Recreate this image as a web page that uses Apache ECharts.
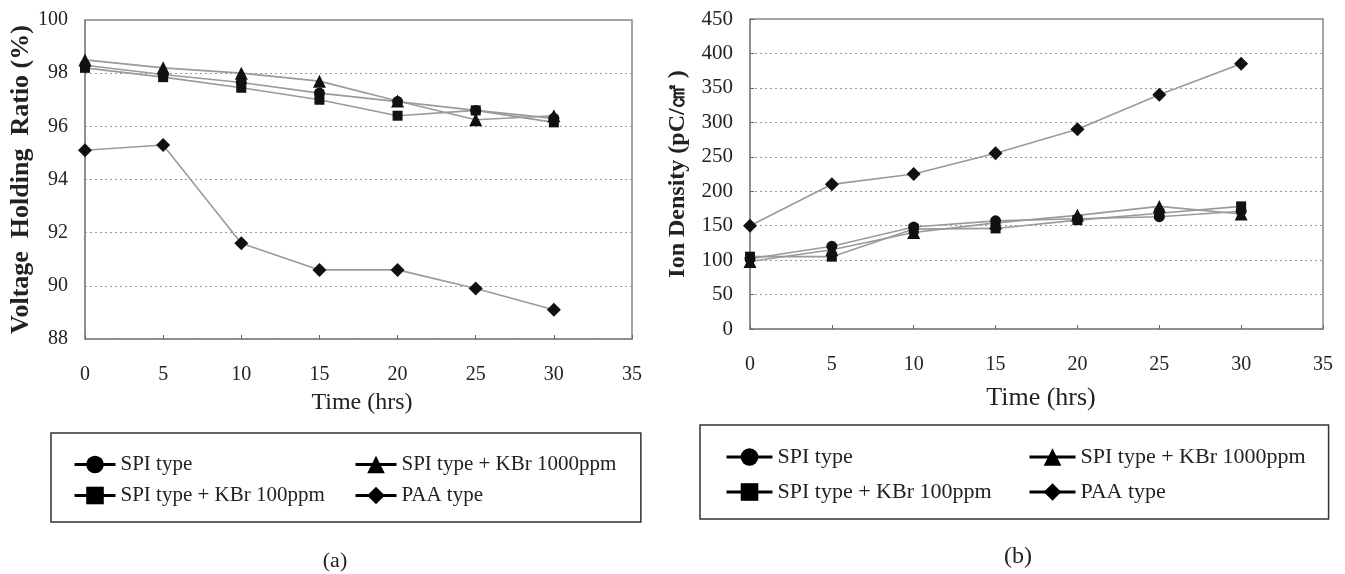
<!DOCTYPE html>
<html>
<head>
<meta charset="utf-8">
<script src="https://cdn.jsdelivr.net/npm/echarts@6/dist/echarts.min.js"></script>
<style>
html,body{margin:0;padding:0;background:#fff;}
#chart{width:1345px;height:574px;}
</style>
</head>
<body>
<div id="chart"></div>
<script>
// ---- data ----
const hours = [0, 5, 10, 15, 20, 25, 30];
const seriesNames = ['SPI type', 'SPI type + KBr 100ppm', 'SPI type + KBr 1000ppm', 'PAA type'];
// (a) Voltage Holding Ratio (%)
const vhrSPI     = [98.3, 97.95, 97.65, 97.25, 96.93, 96.6, 96.3];
const vhrKBr100  = [98.2, 97.85, 97.45, 97.0, 96.4, 96.6, 96.15];
const vhrKBr1000 = [98.5, 98.2, 98.0, 97.7, 96.95, 96.25, 96.4];
const vhrPAA     = [95.1, 95.3, 91.6, 90.6, 90.6, 89.9, 89.1];
// (b) Ion Density (pC/cm2)
const ionSPI     = [102, 120, 148, 157, 160, 163, 171];
const ionKBr100  = [105, 105, 145, 146, 158, 168, 178];
const ionKBr1000 = [98, 115, 140, 154, 165, 178, 167];
const ionPAA     = [150, 210, 225, 255, 290, 340, 385];

const symbols = ['circle', 'rect', 'triangle', 'diamond'];
const symbolSizes = [11, 10, 13, 14];

const FONT = '"Liberation Serif", "Times New Roman", serif';
const TXT = '#222';

function pairs(ys) { return hours.map((h, i) => [h, ys[i]]); }

function mkSeries(dataSets, idx) {
  return dataSets.map((d, i) => ({
    name: seriesNames[i],
    type: 'line',
    xAxisIndex: idx, yAxisIndex: idx,
    data: pairs(d),
    symbol: symbols[i],
    symbolSize: symbolSizes[i],
    showAllSymbol: true,
    lineStyle: { color: '#9a9a9a', width: 1.6 },
    itemStyle: { color: '#111' },
    z: 3,
    animation: false
  }));
}

function xAxisOpt(idx, nameGap, fontSize, namePad) {
  return {
    type: 'value', gridIndex: idx, min: 0, max: 35, interval: 5,
    name: 'Time (hrs)', nameLocation: 'middle', nameGap: nameGap,
    nameTextStyle: { fontFamily: FONT, fontSize: fontSize, color: TXT, padding: namePad },
    axisLine: { lineStyle: { color: '#888', width: 1.5 } },
    axisTick: { inside: true, length: 4, lineStyle: { color: '#666' } },
    axisLabel: { fontFamily: FONT, fontSize: 20, color: TXT, margin: 26 },
    splitLine: { show: false }
  };
}

function legendCol(names, o) {
  return Object.assign({
    data: names, orient: 'vertical', selectedMode: false,
    itemHeight: 22,
    lineStyle: { color: '#000', width: 3 },
    itemStyle: { color: '#000' },
    borderWidth: 0
  }, o);
}

const option = {
  animation: false,
  backgroundColor: '#fff',
  grid: [
    { left: 85, top: 20, width: 547, height: 319, show: true, borderColor: '#888', borderWidth: 1.5, containLabel: false },
    { left: 750, top: 19, width: 573, height: 310, show: true, borderColor: '#888', borderWidth: 1.5, containLabel: false }
  ],
  xAxis: [ xAxisOpt(0, 52, 24, [0, 0, 0, 7]), xAxisOpt(1, 56, 26, [0, 0, 0, 9]) ],
  yAxis: [
    {
      type: 'value', gridIndex: 0, min: 88, max: 100, interval: 2,
      name: 'Voltage  Holding  Ratio (%)', nameLocation: 'middle', nameGap: 50, nameRotate: 90,
      nameTextStyle: { fontFamily: FONT, fontSize: 26, fontWeight: 'bold', color: TXT },
      axisLine: { lineStyle: { color: '#888', width: 1.5 } },
      axisTick: { show: false },
      axisLabel: { fontFamily: FONT, fontSize: 20, color: TXT, margin: 17 },
      splitLine: { show: true, lineStyle: { type: [2, 3], color: '#9a9a9a', width: 1.2 } }
    },
    {
      type: 'value', gridIndex: 1, min: 0, max: 450, interval: 50,
      name: 'Ion Density (pC/㎠ )', nameLocation: 'middle', nameGap: 60, nameRotate: 90,
      nameTextStyle: { fontFamily: FONT, fontSize: 24, fontWeight: 'bold', color: TXT },
      axisLine: { lineStyle: { color: '#888', width: 1.5 } },
      axisTick: { inside: true, length: 4, lineStyle: { color: '#666' } },
      axisLabel: { fontFamily: FONT, fontSize: 21, color: TXT, margin: 17 },
      splitLine: { show: true, lineStyle: { type: [2, 3], color: '#9a9a9a', width: 1.2 } }
    }
  ],
  legend: [
    legendCol([seriesNames[0], seriesNames[1]], {
      left: 51, top: 433, itemWidth: 41, itemGap: 10,
      padding: [21, 316, 16, 22], borderColor: '#333', borderWidth: 1.5,
      textStyle: { fontFamily: FONT, fontSize: 21, color: TXT }
    }),
    legendCol([seriesNames[2], seriesNames[3]], {
      left: 354, top: 454, itemWidth: 41, itemGap: 10, padding: 0,
      textStyle: { fontFamily: FONT, fontSize: 21, color: TXT }
    }),
    legendCol([seriesNames[0], seriesNames[1]], {
      left: 700, top: 425, itemWidth: 46, itemGap: 13,
      padding: [21, 337, 16, 25], borderColor: '#333', borderWidth: 1.5,
      textStyle: { fontFamily: FONT, fontSize: 22, color: TXT }
    }),
    legendCol([seriesNames[2], seriesNames[3]], {
      left: 1028, top: 446, itemWidth: 46, itemGap: 13, padding: 0,
      textStyle: { fontFamily: FONT, fontSize: 22, color: TXT }
    })
  ],
  graphic: [
    { type: 'text', x: 335, y: 561, style: { text: '(a)', font: '22px ' + FONT, fill: TXT, align: 'center', verticalAlign: 'middle' } },
    { type: 'text', x: 1018, y: 557, style: { text: '(b)', font: '24px ' + FONT, fill: TXT, align: 'center', verticalAlign: 'middle' } }
  ],
  series: [].concat(
    mkSeries([vhrSPI, vhrKBr100, vhrKBr1000, vhrPAA], 0),
    mkSeries([ionSPI, ionKBr100, ionKBr1000, ionPAA], 1)
  )
};

const chart = echarts.init(document.getElementById('chart'), null, { renderer: 'canvas' });
chart.setOption(option);
</script>
</body>
</html>
